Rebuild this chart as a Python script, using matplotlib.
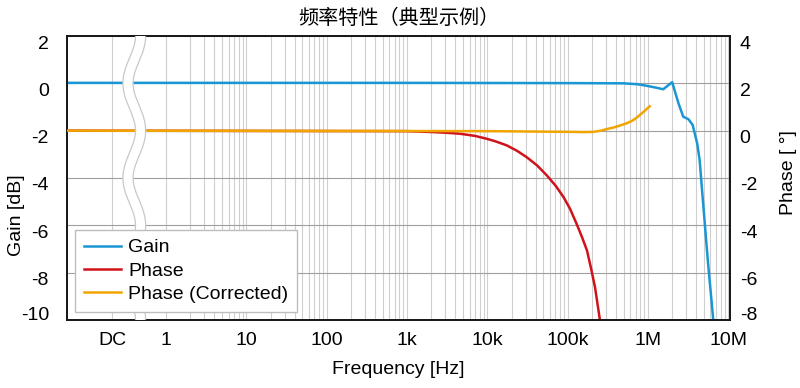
import numpy as np
import matplotlib
matplotlib.use("Agg")
import matplotlib.pyplot as plt
import matplotlib.patheffects as pe
from matplotlib.transforms import ScaledTranslation

# 数据 (读自参考图)
freq_gain = [0.0585, 1e3, 1e5, 5e5, 7.5e5, 9.5e5, 1.25e6, 1.55e6, 2.0e6, 2.4e6, 2.75e6,
             3.2e6, 3.6e6, 4.1e6, 4.4e6, 4.9e6, 5.6e6, 6.5e6, 6.8e6]
gain_db = [0.02, 0.02, 0.01, 0.0, -0.04, -0.1, -0.18, -0.25, 0.05, -0.85, -1.41,
           -1.52, -1.76, -2.54, -3.25, -5.22, -7.61, -10.0, -11.0]

freq_phase = [0.0585, 1e3, 2.14e3, 3.16e3, 4.57e3, 7.0e3, 9.77e3, 1.26e4, 1.74e4,
              2.34e4, 3.09e4, 4.17e4, 5.5e4, 7.1e4, 8.9e4, 1.07e5, 1.29e5, 1.51e5,
              1.74e5, 1.95e5, 2.19e5, 2.51e5, 2.82e5]
phase_deg = [0.0, -0.02, -0.06, -0.09, -0.13, -0.22, -0.34, -0.45, -0.62,
             -0.85, -1.12, -1.47, -1.89, -2.33, -2.81, -3.3, -3.93, -4.5,
             -5.06, -5.8, -6.61, -7.95, -9.0]

freq_corr = [0.0585, 1e4, 1e5, 1.6e5, 2.1e5, 2.6e5, 3.1e5, 3.8e5, 4.5e5, 5.4e5,
             6.3e5, 7.3e5, 8.3e5, 9.4e5, 1.05e6]
phase_corr = [0.0, -0.02, -0.05, -0.06, -0.05, 0.0, 0.07, 0.14, 0.22, 0.31,
              0.41, 0.56, 0.72, 0.88, 1.03]

x_ticks = [0.214, 1, 10, 100, 1e3, 1e4, 1e5, 1e6, 1e7]
x_labels = ['DC', '1', '10', '100', '1k', '10k', '100k', '1M', '10M']
gain_ticks = [-10, -8, -6, -4, -2, 0, 2]
phase_ticks = [-8, -6, -4, -2, 0, 2, 4]

c_gain = '#1a96d4'
c_phase = '#d0121b'
c_corr = '#f0a500'

plt.rcParams['font.family'] = ['Liberation Sans', 'DejaVu Sans']
plt.rcParams['axes.unicode_minus'] = False

fig = plt.figure(figsize=(8, 3.88), dpi=100)
ax = fig.add_axes([0.08375, 0.1753, 0.82875, 0.7319])
ax2 = ax.twinx()

ax.set_xscale('log')
ax.set_xlim(0.0585, 1.05e7)
ax.set_ylim(-10, 2)
ax2.set_ylim(-8, 4)

# 网格
minor = [k * 10.0 ** n for n in range(0, 7) for k in range(2, 10)]
ax.set_xticks(x_ticks)
ax.set_xticklabels(x_labels)
ax.set_xticks(minor, minor=True)
ax.set_xticklabels([], minor=True)
ax.xaxis.grid(True, which='both', color='#cfcfcf', lw=0.8)
ax.yaxis.grid(True, color='#a0a0a0', lw=0.8)
ax.set_axisbelow(True)

ax.set_yticks(gain_ticks)
ax.set_yticklabels([str(v) for v in gain_ticks])
ax2.set_yticks(phase_ticks)
ax2.set_yticklabels([str(v) for v in phase_ticks])

ax.tick_params(axis='both', which='both', length=0, labelsize=14)
ax.tick_params(axis='x', pad=9)
ax.tick_params(axis='y', pad=13)
ax2.tick_params(axis='y', length=0, labelsize=14, pad=7)

# y 刻度标签略向下偏移 (最底部的向上)
for a in (ax, ax2):
    labels = a.get_yticklabels()
    for i, lab in enumerate(labels):
        dy = 6 if i == 0 else -6
        lab.set_transform(lab.get_transform() + ScaledTranslation(0, dy / 100, fig.dpi_scale_trans))

for a in (ax, ax2):
    for s in a.spines.values():
        s.set_linewidth(1.4)
        s.set_color('#1a1a1a')

l1, = ax.plot(freq_gain, gain_db, color=c_gain, lw=1.8, label='Gain', zorder=3)
l2, = ax2.plot(freq_phase, phase_deg, color=c_phase, lw=1.8, label='Phase', zorder=2)
l3, = ax2.plot(freq_corr, phase_corr, color=c_corr, lw=1.8, label='Phase (Corrected)', zorder=3)

# 波浪形断轴标记
yy = np.linspace(0, 1, 400)
xx = 0.1015 + 0.0095 * np.cos(2 * np.pi * (1 - yy) / 0.3333)
ax2.plot(xx, yy, transform=ax2.transAxes, color='white', lw=6.4, zorder=5,
         solid_capstyle='butt', clip_on=True,
         path_effects=[pe.Stroke(linewidth=8.2, foreground='#c8c8c8'), pe.Normal()])

leg = ax2.legend(handles=[l1, l2, l3], loc='lower left',
                 bbox_to_anchor=(0.012, 0.028), fontsize=14, fancybox=False,
                 framealpha=1, edgecolor='#bdbdbd', handlelength=1.9,
                 borderpad=0.45, labelspacing=0.3, handletextpad=0.4,
                 borderaxespad=0)
leg.set_zorder(10)
leg.get_frame().set_linewidth(1.0)

ax.set_xlabel('Frequency [Hz]', fontsize=14)
ax.xaxis.set_label_coords(0.5, -0.144)
ax.set_ylabel('Gain [dB]', fontsize=14)
ax.yaxis.set_label_coords(-0.0633, 0.37)
ax2.set_ylabel('Phase [ °]', fontsize=14, rotation=90)
ax2.yaxis.set_label_coords(1.0754, 0.518)

fig.text(0.499, 1 - 18 / 388, '频率特性（典型示例）', ha='center', va='center',
         fontsize=14.5, family=['Noto Sans CJK SC', 'DejaVu Sans'])

fig.savefig('out.png', dpi=100)
